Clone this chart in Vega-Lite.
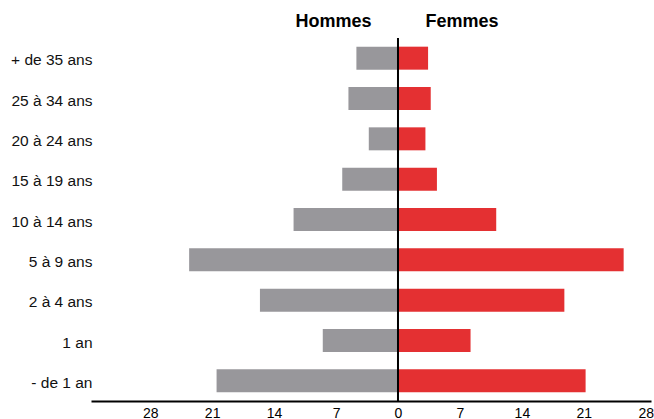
{
  "$schema": "https://vega.github.io/schema/vega-lite/v6.json",
  "width": 560,
  "height": 363,
  "autosize": "none",
  "padding": {"left": 91, "top": 38, "right": 3, "bottom": 18},
  "background": "white",
  "config": {"view": {"stroke": null}, "font": "Liberation Sans"},
  "data": {
    "values": [
      {"age": "+ de 35 ans", "sexe": "Hommes", "valeur": 4.7},
      {"age": "+ de 35 ans", "sexe": "Femmes", "valeur": 3.4},
      {"age": "25 à 34 ans", "sexe": "Hommes", "valeur": 5.6},
      {"age": "25 à 34 ans", "sexe": "Femmes", "valeur": 3.7},
      {"age": "20 à 24 ans", "sexe": "Hommes", "valeur": 3.3},
      {"age": "20 à 24 ans", "sexe": "Femmes", "valeur": 3.1},
      {"age": "15 à 19 ans", "sexe": "Hommes", "valeur": 6.3},
      {"age": "15 à 19 ans", "sexe": "Femmes", "valeur": 4.4},
      {"age": "10 à 14 ans", "sexe": "Hommes", "valeur": 11.8},
      {"age": "10 à 14 ans", "sexe": "Femmes", "valeur": 11.1},
      {"age": "5 à 9 ans", "sexe": "Hommes", "valeur": 23.6},
      {"age": "5 à 9 ans", "sexe": "Femmes", "valeur": 25.5},
      {"age": "2 à 4 ans", "sexe": "Hommes", "valeur": 15.6},
      {"age": "2 à 4 ans", "sexe": "Femmes", "valeur": 18.8},
      {"age": "1 an", "sexe": "Hommes", "valeur": 8.5},
      {"age": "1 an", "sexe": "Femmes", "valeur": 8.2},
      {"age": "- de 1 an", "sexe": "Hommes", "valeur": 20.5},
      {"age": "- de 1 an", "sexe": "Femmes", "valeur": 21.2}
    ]
  },
  "layer": [
    {
      "transform": [
        {"calculate": "datum.sexe === 'Hommes' ? -datum.valeur : datum.valeur", "as": "valeur_signee"}
      ],
      "mark": {"type": "bar"},
      "encoding": {
        "y": {
          "field": "age",
          "type": "nominal",
          "sort": ["+ de 35 ans", "25 à 34 ans", "20 à 24 ans", "15 à 19 ans", "10 à 14 ans", "5 à 9 ans", "2 à 4 ans", "1 an", "- de 1 an"],
          "scale": {"paddingInner": 0.43, "paddingOuter": 0.215},
          "axis": {
            "orient": "left",
            "title": null,
            "domain": false,
            "ticks": false,
            "labelPadding": -1,
            "labelOffset": 2,
            "labelFontSize": 15.5,
            "labelColor": "#111111"
          }
        },
        "x": {
          "field": "valeur_signee",
          "type": "quantitative",
          "scale": {"domain": [-34.69, 28.59], "nice": false, "zero": false},
          "axis": {
            "orient": "bottom",
            "title": null,
            "grid": false,
            "ticks": false,
            "domain": true,
            "domainColor": "#000000",
            "domainWidth": 2,
            "values": [-28, -21, -14, -7, 0, 7, 14, 21, 28],
            "labelExpr": "abs(datum.value)",
            "labelFontSize": 14,
            "labelPadding": 5,
            "labelColor": "#000000"
          }
        },
        "color": {
          "field": "sexe",
          "type": "nominal",
          "scale": {"domain": ["Hommes", "Femmes"], "range": ["#98979b", "#e43032"]},
          "legend": null
        }
      }
    },
    {
      "data": {"values": [{"zero": 0}]},
      "mark": {"type": "rule", "color": "#000000", "strokeWidth": 2},
      "encoding": {
        "x": {
          "field": "zero",
          "type": "quantitative",
          "axis": {
            "orient": "top",
            "title": null,
            "grid": false,
            "ticks": false,
            "domain": false,
            "values": [-7.34, 7.18],
            "labelExpr": "datum.value < 0 ? 'Hommes' : 'Femmes'",
            "labelFontSize": 18,
            "labelFontWeight": "bold",
            "labelBaseline": "alphabetic",
            "labelPadding": 12,
            "labelColor": "#000000"
          }
        }
      }
    }
  ]
}
